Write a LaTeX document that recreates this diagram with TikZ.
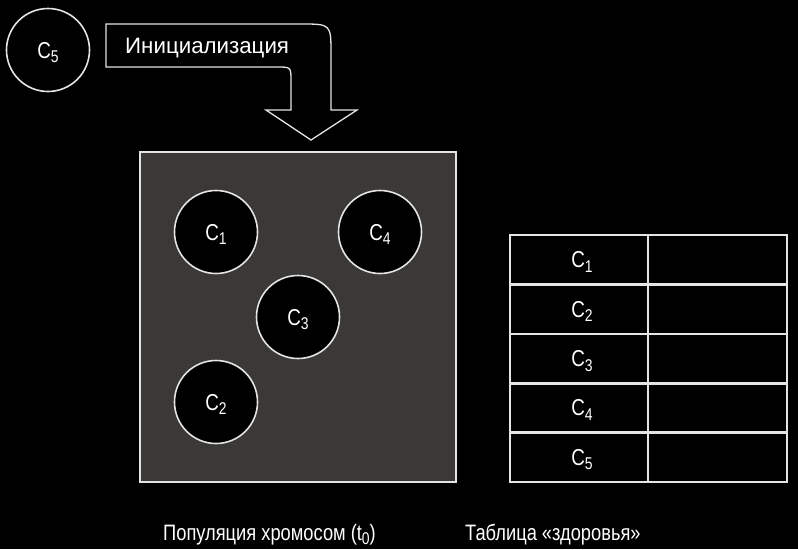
\documentclass[tikz,border=0pt]{standalone}
\usepackage{fontspec}
\setmainfont{Liberation Sans}
\newfontfamily\narrowsans{Liberation Sans}[FakeStretch=0.82]
\usepackage{tikz}
\usetikzlibrary{calc}

\definecolor{lightline}{HTML}{E4E4E2}
\definecolor{boxgray}{HTML}{3A3938}

\newcommand{\sub}[1]{\raisebox{-4.5pt}{\fontsize{17}{17}\selectfont #1}}
\newcommand{\chrom}[1]{C\sub{#1}}

\tikzset{
  chromo/.style={circle, draw=lightline, fill=black, line width=1.6pt,
    minimum size=83pt, inner sep=0pt, text=white, text depth=0pt,
    font=\narrowsans\fontsize{23}{26}\selectfont},
  celltext/.style={text=white, text depth=0pt, font=\narrowsans\fontsize{23}{26}\selectfont},
  cellline/.style={draw=lightline, line width=2.6pt},
}

\begin{document}
\begin{tikzpicture}[x=1pt, y=-1pt]

  \fill[black] (0,0) rectangle (798,549);
  \useasboundingbox (0,0) rectangle (798,549);

  \coordinate (P1) at (140,152);
  \coordinate (P2) at (456,482);
  \coordinate (T1) at (510,235);
  \coordinate (T2) at (787,482);

  \fontsize{22.3}{26}\selectfont

  % initialisation arrow
  \draw[draw=lightline, fill=black, line width=1.3pt]
    (106,24) -- (301,24) .. controls (331,24) .. (331,54) -- (331,110)
    -- (357,110) -- (311,140) -- (266,110) -- (291,110) -- (291,81)
    .. controls (291,67) .. (277,67) -- (106,67) -- cycle;
  \node[anchor=base west, text=white, inner sep=0] (init) at (125,53) {Инициализация};

  \node[chromo] (c5) at (48,50) {\chrom{5}};

  % population
  \filldraw[draw=lightline, fill=boxgray, line width=2.6pt] (P1) rectangle (P2);

  \node[chromo] (c1) at (216,232) {\chrom{1}};
  \node[chromo] (c4) at (380,232) {\chrom{4}};
  \node[chromo] (c3) at (298,317) {\chrom{3}};
  \node[chromo] (c2) at (216,402) {\chrom{2}};

  % fitness table
  \foreach \i in {1,...,5} {
    \draw[cellline] ($ (T1)+(0,49.4*\i-49.4) $) rectangle ($ (T1)+(138,49.4*\i) $);
    \draw[cellline] ($ (T1)+(138,49.4*\i-49.4) $) rectangle ($ (T1)+(277,49.4*\i) $);
    \node[celltext] (k\i) at ($ (T1)+(72,49.4*\i-24.7) $) {\chrom{\i}};
  }

  \node[anchor=base west, text=white, inner sep=0, font=\narrowsans] (poplabel) at (163,540) {Популяция хромосом (t\sub{0})};
  \node[anchor=base west, text=white, inner sep=0, font=\narrowsans] (tablabel) at (465,540) {Таблица «здоровья»};

\end{tikzpicture}
\end{document}
